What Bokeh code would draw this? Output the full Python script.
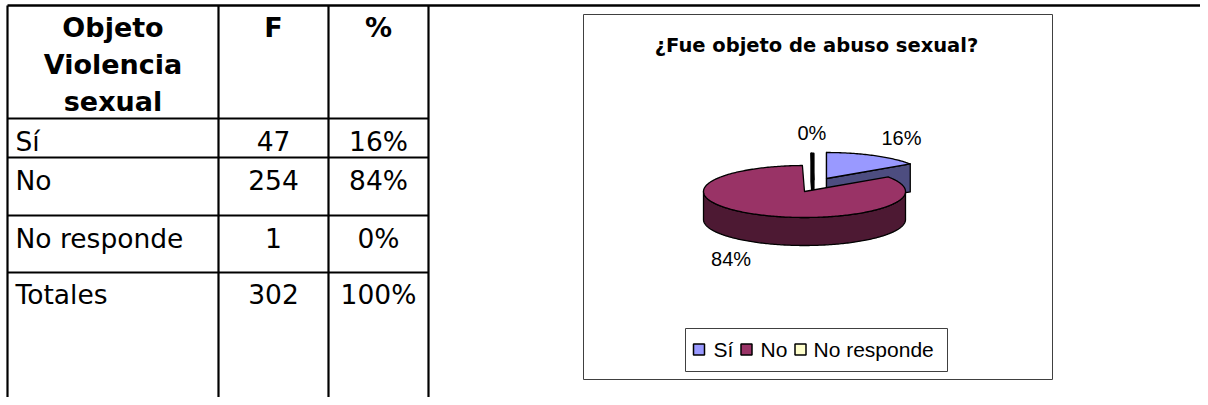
import numpy as np
from bokeh.plotting import figure
from bokeh.models import Range1d
from bokeh.core.properties import value
from bokeh.embed import file_html
from bokeh.resources import INLINE

# ---------------- data ----------------
categories = ["Sí", "No", "No responde"]
frequencies = [47, 254, 1]
percent_labels = ["16%", "84%", "0%"]
total_freq_label = "302"
total_pct_label = "100%"
header_first_col = ["Objeto", "Violencia", "sexual"]
header_cols = ["F", "%"]
row_labels = ["Sí", "No", "No responde", "Totales"]
chart_title = "¿Fue objeto de abuso sexual?"

# ---------------- style ----------------
top_colors = ["#9999FF", "#993366", "#FFFFCC"]
side_colors = ["#4D4D80", "#4D1933", "#808066"]
outline_widths = [1.3, 1.3, 2.2]
explode_offsets = [(22, -13), (0, 0), (9, -12)]
CX, CY, RX, RY, DEPTH = 804, 191, 101, 26, 28
MID = 0.34  # offset (in em) between alphabetic baseline and "middle"

p = figure(width=1200, height=397, x_range=Range1d(0, 1200), y_range=Range1d(397, 0),
           output_backend="svg", toolbar_location=None, min_border=0,
           x_axis_type=None, y_axis_type=None)
p.outline_line_color = None
p.background_fill_color = "white"
p.border_fill_color = "white"


def base(b, size):
    return [v - MID * size for v in b]


# ---------------- table ----------------
col_x = [7, 218, 328, 428]
row_y = [118, 157, 215, 272]
p.segment(x0=[7], y0=[5], x1=[1200], y1=[5], line_color="black", line_width=2.5)
p.segment(x0=col_x, y0=[5] * 4, x1=col_x, y1=[397] * 4, line_color="black", line_width=2.2)
p.segment(x0=[7] * 4, y0=row_y, x1=[428] * 4, y1=row_y, line_color="black", line_width=2.2)

HS = 27
bold_font = dict(text_font=value("DejaVu Sans"), text_font_style="bold",
                 text_font_size=value(f"{HS}px"), text_color="black",
                 text_baseline="middle", text_align="center")
p.text(x=[112.5] * 3, y=base([36, 73, 110], HS), text=header_first_col, **bold_font)
p.text(x=[273, 378], y=base([36, 36], HS), text=header_cols, **bold_font)

BS = 26.5
reg_font = dict(text_font=value("DejaVu Sans"), text_font_size=value(f"{BS}px"),
                text_color="black", text_baseline="middle")
body_y = base([150, 189, 247, 303], BS)
p.text(x=[15] * 4, y=body_y, text=row_labels, text_align="left", **reg_font)
p.text(x=[273] * 4, y=body_y, text=[str(f) for f in frequencies] + [total_freq_label],
       text_align="center", **reg_font)
p.text(x=[378] * 4, y=body_y, text=percent_labels + [total_pct_label],
       text_align="center", **reg_font)

# ---------------- chart frame & title ----------------
p.quad(left=[583], right=[1052], top=[14], bottom=[379], fill_color=None,
       line_color="#404040", line_width=1)
TS = 19.5
p.text(x=[816], y=base([52], TS), text=[chart_title], text_font=value("DejaVu Sans"),
       text_font_style="bold", text_font_size=value(f"{TS}px"), text_color="black",
       text_align="center", text_baseline="middle")

# ---------------- 3D pie ----------------
fr = np.array(frequencies, dtype=float)
edges = np.concatenate([[0.0], np.cumsum(fr) / fr.sum() * 360.0])


def rim(t, ox, oy, dz=0.0):
    r = np.radians(t)
    return CX + ox + RX * np.sin(r), CY + oy - RY * np.cos(r) + dz


cut_xs, cut_ys, cut_c, cut_w, cut_key = [], [], [], [], []
wall_xs, wall_ys, wall_c, wall_w = [], [], [], []
top_xs, top_ys, top_c, top_w = [], [], [], []
lab_x, lab_y = [], []

for i in range(len(frequencies)):
    a0, a1 = edges[i], edges[i + 1]
    ox, oy = explode_offsets[i]
    ax, ay = CX + ox, CY + oy
    # top face
    ts = np.linspace(a0, a1, max(3, int(abs(a1 - a0)) + 2))
    rx_, ry_ = rim(ts, ox, oy)
    top_xs.append([ax] + list(rx_))
    top_ys.append([ay] + list(ry_))
    top_c.append(top_colors[i])
    top_w.append(outline_widths[i])
    # outer wall (front half)
    w0, w1 = max(a0, 90.0), min(a1, 270.0)
    if w1 > w0:
        wt = np.linspace(w0, w1, int(w1 - w0) + 2)
        tx, ty = rim(wt, ox, oy)
        bx, by = rim(wt[::-1], ox, oy, DEPTH)
        wall_xs.append(list(tx) + list(bx))
        wall_ys.append(list(ty) + list(by))
        wall_c.append(side_colors[i])
        wall_w.append(outline_widths[i])
    # cut faces
    for t, vis in ((a0, np.sin(np.radians(a0)) < 1e-9), (a1, np.sin(np.radians(a1)) > 1e-9)):
        if vis and (a1 - a0) < 360:
            px_, py_ = rim(t, ox, oy)
            cut_xs.append([ax, px_, px_, ax])
            cut_ys.append([ay, py_, py_ + DEPTH, ay + DEPTH])
            cut_c.append(side_colors[i])
            cut_w.append(outline_widths[i])
            cut_key.append(-np.cos(np.radians(t)))
    # label
    m = np.radians((a0 + a1) / 2)
    lab_x.append(ax + 1.58 * RX * np.sin(m))
    lab_y.append(ay - 1.78 * RY * np.cos(m) + (DEPTH - 2 if np.cos(m) < 0 else 0))

order = np.argsort(cut_key)
p.patches(xs=[cut_xs[k] for k in order], ys=[cut_ys[k] for k in order],
          fill_color=[cut_c[k] for k in order], line_color="black",
          line_width=[cut_w[k] for k in order], line_join="round")
p.patches(xs=wall_xs, ys=wall_ys, fill_color=wall_c, line_color="black",
          line_width=wall_w, line_join="round")
p.patches(xs=top_xs, ys=top_ys, fill_color=top_c, line_color="black",
          line_width=top_w, line_join="round")

p.text(x=lab_x, y=lab_y, text=percent_labels, text_font=value("Liberation Sans"),
       text_font_size=value("20px"), text_color="black", text_align="center",
       text_baseline="middle")

# ---------------- legend ----------------
p.quad(left=[685], right=[947], top=[328], bottom=[371], fill_color="white",
       line_color="#404040", line_width=1)
p.rect(x=[698.5, 746, 800], y=[349] * 3, width=11, height=11, fill_color=top_colors,
       line_color="black", line_width=1.5)
LS = 21
p.text(x=[713, 760, 813], y=base([356] * 3, LS), text=categories,
       text_font=value("Liberation Sans"), text_font_size=value(f"{LS}px"),
       text_color="black", text_align="left", text_baseline="middle")

open("out.html", "w").write(file_html(p, INLINE))
